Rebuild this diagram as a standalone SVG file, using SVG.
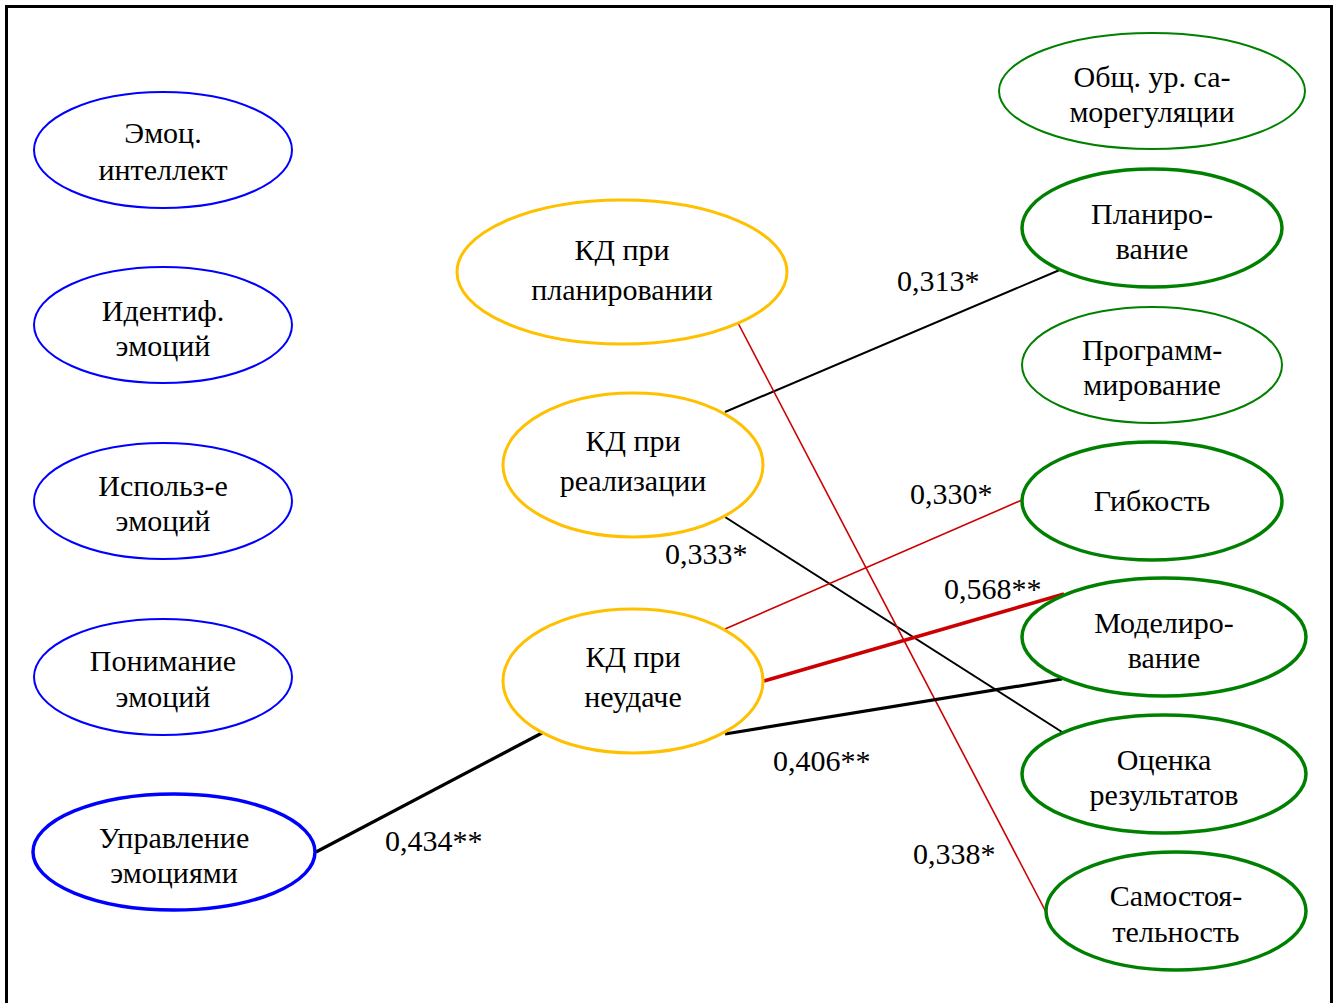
<svg xmlns="http://www.w3.org/2000/svg" width="1338" height="1003" viewBox="0 0 1338 1003">
<style>
text{font-family:Liberation Serif,Tinos,Times New Roman,Times,serif;font-size:30px;fill:#000;text-anchor:middle}
.lbl{text-anchor:start}
ellipse{fill:#fff}
.b{stroke:#0000ff;stroke-width:2}
.bT{stroke:#0000ff;stroke-width:3.5}
.y{stroke:#ffc000;stroke-width:3}
.g{stroke:#008000;stroke-width:2}
.gT{stroke:#008000;stroke-width:3.5}
.k{stroke:#000;stroke-width:2;fill:none}
.kT{stroke:#000;stroke-width:3.2;fill:none}
.r{stroke:#cc0000;stroke-width:1.6;fill:none}
.rT{stroke:#cc0000;stroke-width:3.5;fill:none}
</style>
<rect x="0" y="0" width="1338" height="1003" fill="#fff"/>
<rect x="6.5" y="6.5" width="1325" height="1020" fill="none" stroke="#000" stroke-width="3"/>
<g id="connectors">
<line class="k" x1="725" y1="412" x2="1062" y2="269"/>
<line class="k" x1="725" y1="517" x2="1062" y2="732"/>
<line class="r" x1="738" y1="323" x2="1046" y2="912"/>
<line class="r" x1="725" y1="629" x2="1022" y2="500"/>
<line class="rT" x1="764" y1="681" x2="1064" y2="594"/>
<line class="kT" x1="725" y1="734" x2="1062" y2="679"/>
<line class="kT" x1="316" y1="852" x2="542" y2="733"/>
<text class="lbl" x="897" y="291">0,313*</text>
<text class="lbl" x="665" y="564">0,333*</text>
<text class="lbl" x="910" y="504">0,330*</text>
<text class="lbl" x="944" y="599">0,568**</text>
<text class="lbl" x="773" y="771">0,406**</text>
<text class="lbl" x="385" y="851">0,434**</text>
<text class="lbl" x="913" y="864">0,338*</text>
</g>
<g id="n1"><ellipse class="b" cx="163" cy="150" rx="129" ry="58"/><text x="163" y="143">Эмоц.</text><text x="163" y="180">интеллект</text></g>
<g id="n2"><ellipse class="b" cx="163" cy="325" rx="129" ry="58"/><text x="163" y="321">Идентиф.</text><text x="163" y="356">эмоций</text></g>
<g id="n3"><ellipse class="b" cx="163" cy="501" rx="129" ry="58"/><text x="163" y="496">Использ-е</text><text x="163" y="531">эмоций</text></g>
<g id="n4"><ellipse class="b" cx="163" cy="677" rx="129" ry="58"/><text x="163" y="671">Понимание</text><text x="163" y="707">эмоций</text></g>
<g id="n5"><ellipse class="bT" cx="174" cy="852" rx="141" ry="58"/><text x="174" y="848">Управление</text><text x="174" y="883">эмоциями</text></g>
<g id="y1"><ellipse class="y" cx="622" cy="272" rx="165" ry="72"/><text x="622" y="260">КД при</text><text x="622" y="300">планировании</text></g>
<g id="y2"><ellipse class="y" cx="633" cy="465" rx="130" ry="72"/><text x="633" y="451">КД при</text><text x="633" y="491">реализации</text></g>
<g id="y3"><ellipse class="y" cx="633" cy="681" rx="130" ry="72"/><text x="633" y="667">КД при</text><text x="633" y="707">неудаче</text></g>
<g id="g1"><ellipse class="g" cx="1152" cy="91" rx="153" ry="58"/><text x="1152" y="87">Общ. ур. са-</text><text x="1152" y="122">морегуляции</text></g>
<g id="g2"><ellipse class="gT" cx="1152" cy="228" rx="130" ry="59"/><text x="1152" y="224">Планиро-</text><text x="1152" y="259">вание</text></g>
<g id="g3"><ellipse class="g" cx="1152" cy="365" rx="130" ry="58"/><text x="1152" y="360">Программ-</text><text x="1152" y="395">мирование</text></g>
<g id="g4"><ellipse class="gT" cx="1152" cy="501" rx="130" ry="59"/><text x="1152" y="511">Гибкость</text></g>
<g id="g5"><ellipse class="gT" cx="1164" cy="637" rx="142" ry="59"/><text x="1164" y="633">Моделиро-</text><text x="1164" y="668">вание</text></g>
<g id="g6"><ellipse class="gT" cx="1164" cy="774" rx="142" ry="59"/><text x="1164" y="770">Оценка</text><text x="1164" y="805">результатов</text></g>
<g id="g7"><ellipse class="gT" cx="1176" cy="911" rx="130" ry="59"/><text x="1176" y="906">Самостоя-</text><text x="1176" y="942">тельность</text></g>
</svg>
